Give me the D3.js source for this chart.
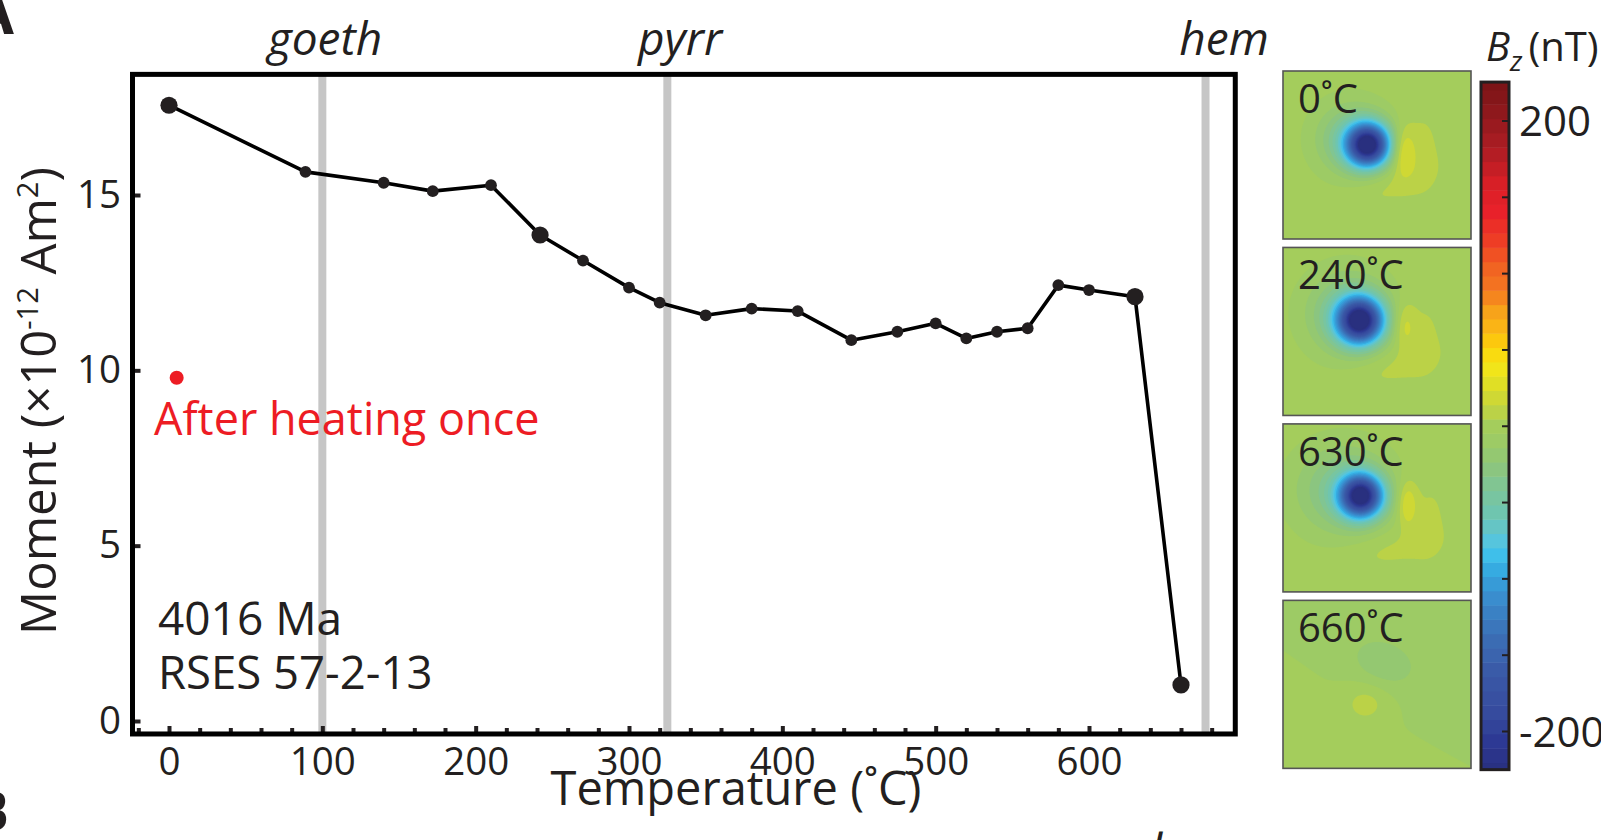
<!DOCTYPE html>
<html><head><meta charset="utf-8">
<script src="https://cdn.jsdelivr.net/npm/d3@7"></script>
<style>
html,body{margin:0;padding:0;background:#fff;overflow:hidden}
svg{display:block}
text{font-family:"Open Sans","Noto Sans",sans-serif;fill:#231f20}
</style></head><body>
<svg id="c" width="1601" height="840"></svg>
<script>
// ---------- data ----------
const temps   = [0, 89, 140, 172, 210, 242, 270, 300, 320, 350, 380, 410, 445, 475, 500, 520, 540, 560, 580, 600, 630, 660];
const moments = [17.56, 15.66, 15.35, 15.11, 15.28, 13.86, 13.13, 12.36, 11.93, 11.57, 11.76, 11.69, 10.86, 11.10, 11.34, 10.91, 11.10, 11.20, 12.43, 12.29, 12.10, 1.03];
const largeTemps = [0, 242, 630, 660];
const afterTemp = [5];
const afterMoment = [9.79];
const xTicks = [0, 100, 200, 300, 400, 500, 600];
const yTicks = [0, 5, 10, 15];
const phaseNames = ["goeth", "pyrr", "hem"];
const phaseTemps = [100, 325, 676];
const mapLabels = ["0˚C", "240˚C", "630˚C", "660˚C"];
const cbTicks = [-200, -150, -100, -50, 0, 50, 100, 150, 200];
const cbLabels = [200, -200];
const cmapValues = [225, 205, 180, 160, 140, 120, 105, 88, 76, 64, 52, 40, 28, 15, 0, -15, -28, -42, -60, -72, -84, -95, -113, -137, -163, -190, -208, -225];
const cmapColors = ["#7a1416","#8f181c","#b01d24","#d61f26","#e9212a","#ee4024","#f16122","#f47b20","#f7a11a","#fbb715","#fcd20a","#f5e617","#e0df25","#c8d53a","#a4cd5c","#98c96b","#8bc580","#7cc59a","#6cc5b5","#5ec6d8","#3fc0ea","#35a8e0","#3a8ccd","#3b6fb5","#3a58a6","#364a9d","#2c3793","#29307f"];
// field components per map: [cx, cy, sx, sy, rotationDeg, amplitude nT] (panel-relative)
const map0 = [[85,74,14.5,14.5,0,-230],[68,68,24,24,0,-42],[120,80,8,16,0,30],[106,114,30,13,-20,7.5],[140,80,13,32,0,7]];
const map1 = [[77,73,15.5,15.5,0,-230],[64,66,28,28,0,-42],[121,78,8,16,0,20],[108,120,32,13,-15,7.5],[142,88,13,30,0,6.5]];
const map2 = [[78,72,14.5,14.5,0,-225],[60,66,32,30,0,-40],[124,80,7,16,0,26],[105,126,34,13,-10,7.5],[146,94,13,30,0,7]];
const map3 = [[100,63,22,15,20,-15],[83,103,16,14,0,13],[59,-34,400,90,35,-9]];
const maps = [map0, map1, map2, map3];

// ---------- setup ----------
const svg = d3.select("#c");
const ink = "#231f20";
const x = d3.scaleLinear().domain([0, 600]).range([169, 1089]);
const y = d3.scaleLinear().domain([0, 15]).range([721, 195]);
const xMin = -23.8, xMax = 695.4, yMin = -0.37, yMax = 18.44;

svg.append("g").selectAll("line").data(phaseTemps).join("line")
  .attr("x1", d => x(d)).attr("x2", d => x(d))
  .attr("y1", y(yMax)).attr("y2", y(yMin))
  .attr("stroke", "#c6c6c6").attr("stroke-width", 8);

const gx = svg.append("g").attr("transform", `translate(0,${y(yMin)})`)
  .call(d3.axisBottom(x).tickValues(xTicks).tickSize(-8).tickPadding(13.5));
const minor = d3.range(-20, 690, 20).filter(d => d % 100 !== 0);
const gxm = svg.append("g").attr("transform", `translate(0,${y(yMin)})`)
  .call(d3.axisBottom(x).tickValues(minor).tickSize(-6).tickFormat(""));
const gy = svg.append("g").attr("transform", `translate(${x(xMin)},0)`)
  .call(d3.axisLeft(y).tickValues(yTicks).tickSize(-8).tickPadding(11.5));
[gx, gxm, gy].forEach(g => {
  g.select(".domain").remove();
  g.selectAll(".tick line").attr("stroke", ink).attr("stroke-width", 4);
  g.selectAll(".tick text").attr("fill", ink).style("font-size", "38.5px")
    .style("font-family", '"Open Sans","Noto Sans",sans-serif');
});

svg.append("rect").attr("x", x(xMin)).attr("y", y(yMax))
  .attr("width", x(xMax) - x(xMin)).attr("height", y(yMin) - y(yMax))
  .attr("fill", "none").attr("stroke", "#000").attr("stroke-width", 5);

const pts = temps.map((t, i) => [t, moments[i]]);
svg.append("path").datum(pts)
  .attr("d", d3.line().x(d => x(d[0])).y(d => y(d[1])))
  .attr("fill", "none").attr("stroke", "#000").attr("stroke-width", 3.6).attr("stroke-linejoin", "round");
svg.append("g").selectAll("circle").data(pts).join("circle")
  .attr("cx", d => x(d[0])).attr("cy", d => y(d[1]))
  .attr("r", d => largeTemps.includes(d[0]) ? 8.6 : 5.9)
  .attr("fill", ink);
svg.append("g").selectAll("circle").data(afterTemp.map((t, i) => [t, afterMoment[i]])).join("circle")
  .attr("cx", d => x(d[0])).attr("cy", d => y(d[1])).attr("r", 7).attr("fill", "#ed1c24");

const T = (tx, ty, s, size, opts = {}) => {
  const t = svg.append("text").attr("x", tx).attr("y", ty).text(s).style("font-size", size + "px");
  if (opts.anchor) t.attr("text-anchor", opts.anchor);
  if (opts.italic) t.style("font-style", "italic");
  if (opts.bold) t.style("font-weight", "bold");
  if (opts.fill) t.style("fill", opts.fill);
  return t;
};
const phaseLabelX = [325, 680, 1224];
phaseNames.forEach((n, i) => T(phaseLabelX[i], 55, n, 46, {anchor: "middle", italic: true}));
T(736, 805, "Temperature (˚C)", 47, {anchor: "middle"});
const yt = svg.append("text").attr("transform", "translate(56,401) rotate(-90)")
  .attr("text-anchor", "middle").style("font-size", "49px");
yt.append("tspan").text("Moment (×10");
yt.append("tspan").text("-12").attr("dy", -18).style("font-size", "29px");
yt.append("tspan").text(" Am").attr("dy", 18);
yt.append("tspan").text("2").attr("dy", -18).style("font-size", "29px");
yt.append("tspan").text(")").attr("dy", 18);
T(158, 635, "4016 Ma", 46);
T(158, 689, "RSES 57-2-13", 45.5);
T(154, 435, "After heating once", 45, {fill: "#ed1c24"});
T(14, 34, "A", 60, {anchor: "end", bold: true});
T(9, 831, "B", 56, {anchor: "end", bold: true});
T(1150, 868, "l", 48, {italic: true});

// ---------- maps ----------
const cmap = d3.scaleLinear().domain(cmapValues).range(cmapColors).clamp(true);
const w = 9.375;
const edges = d3.range(-24, 25).map(k => (k - 0.5) * w);
const panelX = 1283, panelW = 188;
const band = d3.scaleBand().domain(mapLabels).range([71, 768]).paddingInner(0.05);
const panelH = Math.round(band.bandwidth());
maps.forEach((comps, mi) => {
  const top = band(mapLabels[mi]);
  const nx = panelW, ny = panelH;
  const vals = new Float64Array(nx * ny);
  for (let j = 0; j < ny; j++) for (let i = 0; i < nx; i++) {
    let v = 0;
    const px = i + 0.5, py = j + 0.5;
    for (const [cx, cy, sx, sy, rot, a] of comps) {
      const th = rot * Math.PI / 180, dx = px - cx, dy = py - cy;
      const u = dx * Math.cos(th) + dy * Math.sin(th), q = -dx * Math.sin(th) + dy * Math.cos(th);
      v += a * Math.exp(-(u * u / (2 * sx * sx) + q * q / (2 * sy * sy)));
    }
    vals[j * nx + i] = v;
  }
  const g = svg.append("g").attr("transform", `translate(${panelX},${top})`);
  g.append("rect").attr("width", nx).attr("height", ny).attr("fill", cmap(-225));
  const cs = d3.contours().size([nx, ny]).thresholds(edges)(vals);
  g.selectAll("path").data(cs).join("path")
    .attr("d", d3.geoPath()).attr("fill", d => cmap(d.value + w / 2));
  g.append("rect").attr("width", nx).attr("height", ny).attr("fill", "none")
    .attr("stroke", "#555").attr("stroke-width", 1.6);
  g.append("text").attr("x", 15).attr("y", 42).text(mapLabels[mi]).style("font-size", "40px");
});

// ---------- colorbar ----------
const cbY = d3.scaleLinear().domain([200, -200]).range([121, 731.5]);
const cbX = 1481, cbW = 28, vTop = 225.5, vBot = -225;
const cbEdges = [vBot, ...edges.filter(e => e > vBot && e < vTop), vTop];
const cbBands = d3.pairs(cbEdges);
svg.append("g").selectAll("rect").data(cbBands).join("rect")
  .attr("x", cbX).attr("width", cbW)
  .attr("y", d => cbY(d[1])).attr("height", d => cbY(d[0]) - cbY(d[1]) + 0.5)
  .attr("fill", d => cmap((d[0] + d[1]) / 2));
svg.append("g").selectAll("line").data(cbTicks).join("line")
  .attr("x1", cbX + cbW - 7).attr("x2", cbX + cbW).attr("y1", d => cbY(d)).attr("y2", d => cbY(d))
  .attr("stroke", ink).attr("stroke-width", 2);
svg.append("rect").attr("x", cbX).attr("y", cbY(vTop)).attr("width", cbW).attr("height", cbY(vBot) - cbY(vTop))
  .attr("fill", "none").attr("stroke", ink).attr("stroke-width", 3);
svg.append("g").selectAll("text").data(cbLabels).join("text")
  .attr("x", 1519).attr("y", d => cbY(d)).attr("dy", "0.36em")
  .text(d => d < 0 ? "-" + Math.abs(d) : d).style("font-size", "42px");
const bz = svg.append("text").attr("x", 1486).attr("y", 61).style("font-size", "40px");
bz.append("tspan").text("B").style("font-style", "italic");
bz.append("tspan").text("z").attr("dy", 10).style("font-style", "italic").style("font-size", "28px");
bz.append("tspan").text("(nT)").attr("dx", 6).attr("dy", -10);
</script>
</body></html>
